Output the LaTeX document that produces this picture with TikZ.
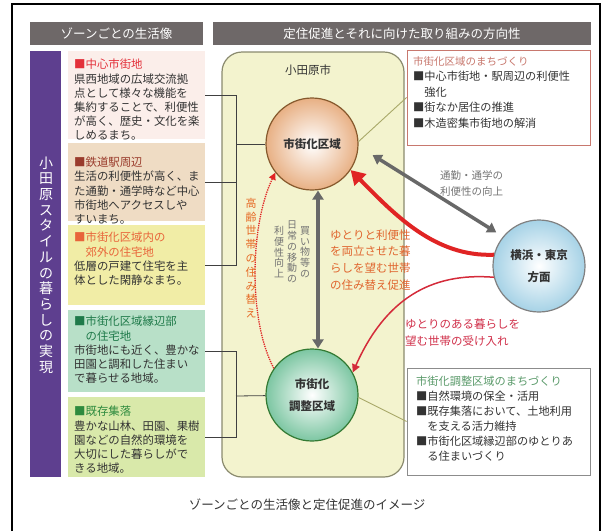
\documentclass[tikz,border=0pt]{standalone}
\usepackage{fontspec}
\setmainfont{Noto Sans CJK JP}
\usetikzlibrary{arrows.meta}
\definecolor{hdrgray}{HTML}{6E6868}
\definecolor{barpurple}{HTML}{5E3F8F}
\definecolor{zoneA}{HTML}{FBEEEA}
\definecolor{zoneB}{HTML}{EFDCC4}
\definecolor{zoneC}{HTML}{F1EDA6}
\definecolor{zoneD}{HTML}{B8E0C8}
\definecolor{zoneE}{HTML}{D9E9AA}
\definecolor{titleA}{HTML}{E3303A}
\definecolor{titleB}{HTML}{9A3C2C}
\definecolor{titleC}{HTML}{E8653A}
\definecolor{titleD}{HTML}{1F7A4A}
\definecolor{titleE}{HTML}{2E8B3E}
\definecolor{TitleRB}{HTML}{C8786E}
\definecolor{TitleGB}{HTML}{5A9A6A}
\definecolor{bodytext}{HTML}{333333}
\definecolor{cityfill}{HTML}{F3F3CE}
\definecolor{cityline}{HTML}{8A8A6E}
\definecolor{urbanedge}{HTML}{E8B084}
\definecolor{ruraledge}{HTML}{7CC6A2}
\definecolor{yokoedge}{HTML}{A6D2E6}
\definecolor{arrgray}{HTML}{686868}
\definecolor{arrred}{HTML}{E02424}
\definecolor{thinred}{HTML}{D42B3A}
\definecolor{lblorange}{HTML}{E0652E}
\definecolor{lblcrimson}{HTML}{D0304A}
\definecolor{olive}{HTML}{A8A868}
\begin{document}
\begin{tikzpicture}[x=1pt,y=-1pt,
  hdr/.style={fill=hdrgray, text=white, inner sep=0, minimum height=23, font=\fontsize{12.5}{14}\selectfont},
  zonebox/.style={minimum width=137, minimum height=#1, inner sep=0},
  zonetext/.style={anchor=north west, inner sep=0, align=left, text=bodytext, font=\fontsize{11.4}{14.2}\selectfont},
  conn/.style={draw=black!75, line width=0.8pt},
  circ/.style={circle, minimum size=92, inner sep=0, line width=1.2pt, align=center, font=\bfseries\fontsize{11.5}{22}\selectfont, text=black!80},
  rbox/.style={draw, line width=0.9pt, fill=white, minimum width=183, inner sep=0},
  rtext/.style={anchor=north west, inner sep=0, align=left, text=bodytext, font=\fontsize{11.2}{15.5}\selectfont},
  vtext/.style={inner sep=0, align=center},
  grayarr/.style={draw=arrgray, line width=3.5pt, {Triangle[length=9pt,width=11pt]}-{Triangle[length=9pt,width=11pt]}},
  redarr/.style={draw=arrred, line width=4pt, -{Triangle[length=14pt,width=16pt]}}
]
\useasboundingbox (0,0) rectangle (608,531);
\draw[line width=1.6pt] (12,531) -- (12,4) -- (600,4) -- (600,531);
\node[hdr, minimum width=173] (hdrL) at (116.5,33.5) {ゾーンごとの生活像};
\node[hdr, minimum width=378] (hdrR) at (402,33.5) {定住促進とそれに向けた取り組みの方向性};
\node[fill=barpurple, minimum width=31, minimum height=426, inner sep=0] (bar) at (45.5,264) {};
\node[vtext, text=white, font=\fontsize{14}{15.7}\selectfont] (barlbl) at (46,265) {小\\田\\原\\ス\\タ\\イ\\ル\\の\\暮\\ら\\し\\の\\実\\現};
\node[zonebox=88, fill=zoneA] (zone1) at (136.5,95) {};
\node[zonebox=78, fill=zoneB] (zone2) at (136.5,182) {};
\node[zonebox=80, fill=zoneC] (zone3) at (136.5,265) {};
\node[zonebox=82, fill=zoneD] (zone4) at (136.5,351) {};
\node[zonebox=80, fill=zoneE] (zone5) at (136.5,437) {};
\node[zonetext] (zone1t) at (74,59) {\textcolor{titleA}{■中心市街地}\\県西地域の広域交流拠\\点として様々な機能を\\集約することで、利便性\\が高く、歴史・文化を楽\\しめるまち。};
\node[zonetext] (zone2t) at (74,157) {\textcolor{titleB}{■鉄道駅周辺}\\生活の利便性が高く、ま\\た通勤・通学時など中心\\市街地へアクセスしや\\すいまち。};
\node[zonetext] (zone3t) at (74,232) {\textcolor{titleC}{■市街化区域内の}\\\textcolor{titleC}{　郊外の住宅地}\\低層の戸建て住宅を主\\体とした閑静なまち。};
\node[zonetext] (zone4t) at (74,316) {\textcolor{titleD}{■市街化区域縁辺部}\\\textcolor{titleD}{　の住宅地}\\市街地にも近く、豊かな\\田園と調和した住まい\\で暮らせる地域。};
\node[zonetext] (zone5t) at (74,406) {\textcolor{titleE}{■既存集落}\\豊かな山林、田園、果樹\\園などの自然的環境を\\大切にした暮らしがで\\きる地域。};
\node[draw=cityline, fill=cityfill, line width=1.2pt, rounded corners=20, minimum width=182, minimum height=425, inner sep=0] (city) at (313,264.5) {};
\node[font=\fontsize{11.5}{14}\selectfont, text=black!80] (citylbl) at (308,70) {小田原市};
\coordinate (busA) at (236,144);
\coordinate (busB) at (236,396);
\draw[conn] (zone1.east) -| (busA);
\draw[conn] (zone2.east) -| (busA);
\draw[conn] (zone3.east) -| (busA);
\draw[conn] (zone4.east) -| (busB);
\draw[conn] (zone5.east) -| (busB);
\node[rbox, draw=TitleRB, minimum height=95] (rbox1) at (498.5,97.5) {};
\node[rbox, draw=black!45, minimum height=107] (rbox2) at (498.5,421.5) {};
\node[circ, draw=brown!70!black, shading=radial, inner color=white, outer color=urbanedge] (urban) at (312,144) {市街化区域};
\node[circ, draw=green!35!black!80, shading=radial, inner color=white, outer color=ruraledge] (rural) at (312,395) {市街化\\調整区域};
\node[circ, draw=gray, shading=radial, inner color=white, outer color=yokoedge] (yoko) at (539,266) {横浜・東京\\方面};
\draw[conn] (busA) -- (urban);
\draw[conn] (busB) -- (rural);
\draw[draw=olive, line width=0.9pt] (urban.3) -- (rbox1.west);
\draw[draw=olive, line width=0.9pt] (rural.-3) -- (rbox2.west);
\node[rtext] (rbox1t) at (413,56) {\textcolor{TitleRB}{\fontsize{10.5}{15.5}\selectfont 市街化区域のまちづくり}\\■中心市街地・駅周辺の利便性\\　強化\\■街なか居住の推進\\■木造密集市街地の解消};
\node[rtext, font=\fontsize{11.2}{15}\selectfont] (rbox2t) at (416,376) {\textcolor{TitleGB}{市街化調整区域のまちづくり}\\■自然環境の保全・活用\\■既存集落において、土地利用\\　を支える活力維持\\■市街化区域縁辺部のゆとりあ\\　る住まいづくり};
\draw[grayarr] ([xshift=6pt]urban.south) -- ([xshift=6pt]rural.north);
\draw[grayarr] ([xshift=14pt,yshift=-11pt]urban.east) -- ([xshift=-6pt,yshift=5pt]yoko.142);
\draw[redarr] (yoko.166) .. controls (435,257) and (395,215) .. (urban.-34);
\draw[draw=thinred, line width=1.5pt, -{Triangle[length=8pt,width=8pt]}] (yoko.-166) .. controls (430,272) and (385,300) .. (rural.29);
\draw[draw=arrred, line width=1.3pt, densely dotted, -{Triangle[length=7pt,width=7pt]}] (rural.145) .. controls (248,320) and (250,225) .. (urban.218);
\node[vtext, text=black!55, font=\fontsize{10}{10.8}\selectfont] (vgray1) at (305,252) {買\\い\\物\\等\\の};
\node[vtext, text=black!55, font=\fontsize{10}{10.8}\selectfont] (vgray2) at (292,252) {日\\常\\の\\移\\動\\の};
\node[vtext, text=black!55, font=\fontsize{10}{10.8}\selectfont] (vgray3) at (279,252) {利\\便\\性\\向\\上};
\node[vtext, text=lblorange!80!orange, font=\fontsize{11}{13.8}\selectfont] (vorange) at (251,258) {高\\齢\\世\\帯\\の\\住\\み\\替\\え};
\node[anchor=west, align=left, inner sep=0, text=black!55, font=\fontsize{10.5}{16}\selectfont] (commute) at (440,183) {通勤・通学の\\利便性の向上};
\node[anchor=west, align=left, inner sep=0, text=lblorange, font=\fontsize{11.5}{16.8}\selectfont] (moveurb) at (330,260) {ゆとりと利便性\\を両立させた暮\\らしを望む世帯\\の住み替え促進};
\node[anchor=west, align=left, inner sep=0, text=lblcrimson, font=\fontsize{11.5}{17}\selectfont] (moverur) at (405,333) {ゆとりのある暮らしを\\望む世帯の受け入れ};
\node[text=bodytext, font=\fontsize{12.5}{14}\selectfont] (caption) at (307,505) {ゾーンごとの生活像と定住促進のイメージ};
\end{tikzpicture}
\end{document}
